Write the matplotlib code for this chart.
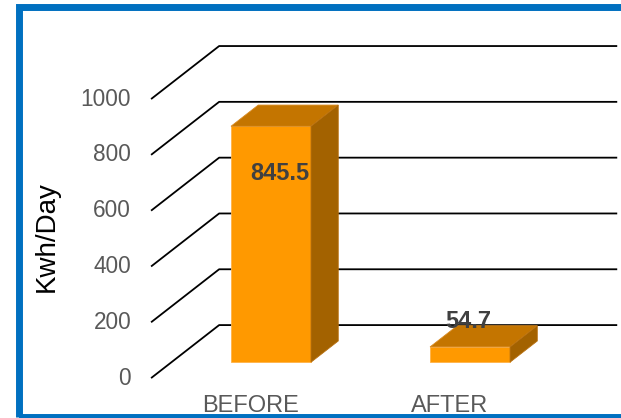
#!/usr/bin/env python3
import matplotlib
matplotlib.use('Agg')
import matplotlib.pyplot as plt
from matplotlib.patches import Polygon, Rectangle

categories = ['BEFORE', 'AFTER']
values = [845.5, 54.7]
ticks = [0, 200, 400, 600, 800, 1000]

plt.rcParams['font.family'] = ['Liberation Sans', 'DejaVu Sans']

# fake 3D: depth shift of the back wall (x in category units, y in value units)
DX, DY = 0.342, 190
d0, d1 = 0.3, 0.7   # bar front / back depth
w = 0.402

fig = plt.figure(figsize=(6.21, 4.18), dpi=100)
ax = fig.add_axes([0, 0, 1, 1])
ax.set_xlim(-1.259, 1.861)
ax.set_ylim(-143, 1355)
ax.axis('off')

# grid: diagonal on the side wall, then the back wall line
for t in ticks:
    ax.plot([-0.5, -0.5 + DX, 1.5 + DX], [t, t + DY, t + DY],
            color='black', lw=1.3, zorder=1, solid_capstyle='butt')
    ax.text(-0.6, t, str(t), ha='right', va='center', fontsize=16.3,
            color='#595959')

for i, (cat, v) in enumerate(zip(categories, values)):
    xl, xr = i - w / 2, i + w / 2
    front = Rectangle((xl + d0 * DX, d0 * DY), w, v, facecolor='#FF9900',
                      edgecolor='#FFB347', lw=0.6, zorder=3)
    top = Polygon([(xl + d0 * DX, v + d0 * DY), (xr + d0 * DX, v + d0 * DY),
                   (xr + d1 * DX, v + d1 * DY), (xl + d1 * DX, v + d1 * DY)],
                  closed=True, facecolor='#C47500', edgecolor='#D98A20',
                  lw=0.6, zorder=3)
    side = Polygon([(xr + d0 * DX, d0 * DY), (xr + d1 * DX, d1 * DY),
                    (xr + d1 * DX, v + d1 * DY), (xr + d0 * DX, v + d0 * DY)],
                   closed=True, facecolor='#A36200', edgecolor='#B87010',
                   lw=0.6, zorder=3)
    for p in (front, top, side):
        ax.add_patch(p)
    if v > 200:
        off = (6, -34)
    else:
        off = (-1, 18)
    ax.annotate(f'{v}', (i + d0 * DX, v + d0 * DY), xytext=off,
                textcoords='offset points', ha='center', va='center',
                fontsize=17, fontweight='bold', color='#404040', zorder=4)
    ax.text(i, -100, cat, ha='center', va='center', fontsize=17,
            color='#595959')

ax.text(-1.023, 509, 'Kwh/Day', rotation=90, ha='center', va='center',
        fontsize=20, color='black')

# blue frame (left, top, bottom; right side cut off)
fig.patches.append(Rectangle((19 / 621, 1.5 / 418), 1.2, 410 / 418,
                             transform=fig.transFigure, fill=False,
                             edgecolor='#0070C0', lw=5, zorder=10))

fig.savefig('out.png', dpi=100)
